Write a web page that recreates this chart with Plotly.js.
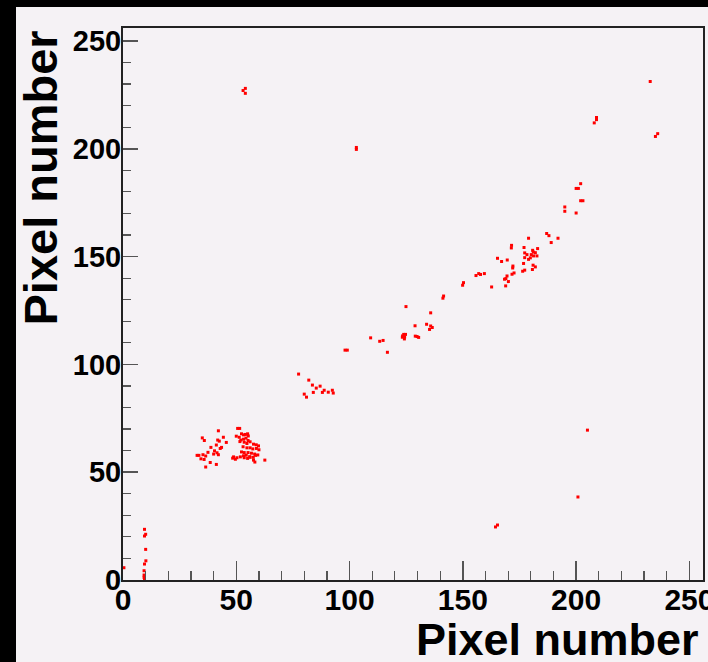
<!DOCTYPE html>
<html>
<head>
<meta charset="utf-8">
<script src="https://cdn.plot.ly/plotly-3.0.1.min.js"></script>
<style>
html,body{margin:0;padding:0;background:#000;width:708px;height:662px;overflow:hidden;}
#chart{position:absolute;left:16px;top:7px;width:692px;height:655px;}
</style>
</head>
<body>
<div id="chart"></div>
<script>
// Hit positions (pixel x, pixel y)
const hitX = [
  // column near x~10
  9.5,10,9.5,10,10.1,9.5,9.3,9.3,9.3,9.5,0.4,
  // left cluster ~ (40,60)
  42.1,35,35.9,44.3,41.8,42.5,45.6,41.2,38.8,43.5,42.9,37.5,40.4,41.5,40,32.7,33.5,35.3,36.5,42.1,34.4,35.8,38.5,41.2,36.5,
  // dense cluster ~ (55,62)
  50.6,51.5,50.0,51.3,52.3,53.2,54.0,55.0,55.3,52.0,53.2,54.3,55.2,51.6,53.5,54.7,56.1,57.6,58.8,59.8,53.0,54.7,56.1,57.3,58.9,60,52.3,53.5,55.2,56.7,58.1,59.5,53.2,54.4,55.9,57.5,58.5,48.8,50.3,51.8,53.5,55,56.1,57.6,58.2,62.6,48.4,49.6,
  // cluster ~ (85,88)
  77.5,82,83.6,80,81,85.3,87,88.8,90.6,92.4,92.8,84,88,
  // track
  98,99,109.3,113.3,114.8,116.7,123.9,123.4,124.3,123.3,124.2,124.7,129,129.8,130.5,128.9,134,135.8,136.5,135.3,135.8,124.9,141.5,141.2,150.3,149.9,155.8,157,157.8,159.5,162.7,
  165.3,169.6,167.1,172.1,172,168.9,170.1,172.6,171.7,169.5,169,168.4,176.4,177.3,176.8,181,182,180.7,177.3,179.8,179,178.3,180.2,181.2,182.7,177.3,182,180.8,181.1,171.5,171.4,177,183,179,187,188,192,189,
  195,195,200,202,200,201,202,203,208,209,209,235,236,232.7,
  // isolated
  54,54,53,103,103,164.4,165.3,205,200.8
];
const hitY = [
  23.5,21.2,20.4,14.2,8.9,7.4,4.3,2.3,1.2,0.5,5.7,
  69.2,65.9,64.7,66.2,64.9,64.4,63.8,62.6,61.5,61.5,61,59.2,59.9,59,58.4,57.8,57.8,58.1,57.5,58.1,56.2,55.9,54.5,53.6,52.4,
  70.3,70.3,66.7,66.2,67.8,67.3,67.5,67.8,66.8,64.9,65.3,65.8,64.7,64.2,63.9,63.3,64.1,63,62.7,62.2,61.8,61.3,61.3,60.8,61,60.4,59.4,59.1,59.1,58.8,58.4,58,57.6,57.9,57.2,56.9,57.8,57.1,56.7,57.1,56.7,56.4,56.9,55.6,54.7,55.6,56.5,56.0,
  95.5,92.7,90.4,86.2,84.8,89,89.9,88,87.1,88,86.7,87,87,
  106.6,106.6,112.3,110.7,111.1,105.6,113.9,113.2,112.7,112.6,111.8,113.9,113.1,112.9,112.5,117.9,118.6,117.8,117.1,116.2,123.9,126.8,131.7,130.7,137.9,136.7,141.2,142.1,141.7,142.1,135.9,
  149.2,148.4,147.7,145.6,144.7,136.4,138.4,142.4,141.8,141,139.8,139.5,143.2,143.7,146.8,146,145.2,144,149.5,149.4,148.7,150.9,150.9,150.3,150.3,151.7,151.8,152.9,152.1,155.2,154,154.2,153.7,158.5,160.7,159.7,158.5,156.5,
  173,171,170.2,183.8,181.6,181.6,175.9,175.9,212,213.5,214.5,205.7,207,231.2,
  228,225.7,227,200.6,199.7,24.6,25.5,69.5,38.5
];

const xTickVals = [0,50,100,150,200,250];
const yTickVals = [0,50,100,150,200,250];
const titleText = "Pixel number";

const tickFontX = {family:"Liberation Sans, Arial, sans-serif", size:30, color:"#000", weight:"bold"};
const tickFontY = {family:"Liberation Sans, Arial, sans-serif", size:29, color:"#000", weight:"bold"};
const titleFont = {family:"Liberation Sans, Arial, sans-serif", size:45, color:"#000", weight:"bold"};

const trace = {
  type:"scatter", mode:"markers",
  x: hitX, y: hitY,
  marker:{symbol:"square", size:3, color:"#ff0000", line:{width:0}},
  hoverinfo:"x+y"
};

const bg = "#f5f2f5";
const layout = {
  width:692, height:655,
  margin:{l:107, r:5, t:21, b:82, pad:0},
  paper_bgcolor:bg, plot_bgcolor:bg,
  showlegend:false,
  xaxis:{
    range:[0,256], tickmode:"array", tickvals:xTickVals,
    ticks:"inside", ticklen:19, tickwidth:1.5, tickcolor:"#555",
    minor:{dtick:10, tick0:0, ticks:"inside", ticklen:9, tickwidth:1.2, tickcolor:"#555"},
    showline:true, linecolor:"#222", linewidth:2, mirror:true,
    showgrid:false, zeroline:false, tickfont:tickFontX, ticklabelstandoff:-8,
    ticklabeloverflow:"allow"
  },
  yaxis:{
    range:[0,256], tickmode:"array", tickvals:yTickVals,
    ticks:"inside", ticklen:15, tickwidth:1.5, tickcolor:"#555",
    minor:{dtick:10, tick0:0, ticks:"inside", ticklen:8, tickwidth:1.2, tickcolor:"#555"},
    showline:true, linecolor:"#222", linewidth:2, mirror:true,
    showgrid:false, zeroline:false, tickfont:tickFontY, ticklabelstandoff:-6,
    ticklabeloverflow:"allow"
  },
  annotations:[
    {text:titleText, xref:"paper", yref:"paper", x:0.997, y:-0.108, xanchor:"right", yanchor:"middle",
     showarrow:false, font:titleFont},
    {text:titleText, xref:"paper", yref:"paper", x:-0.1414, y:1.0, xanchor:"center", yanchor:"top",
     textangle:-90, showarrow:false, font:Object.assign({}, titleFont, {size:47})}
  ]
};

Plotly.newPlot("chart", [trace], layout, {staticPlot:true, displayModeBar:false});
</script>
</body>
</html>
